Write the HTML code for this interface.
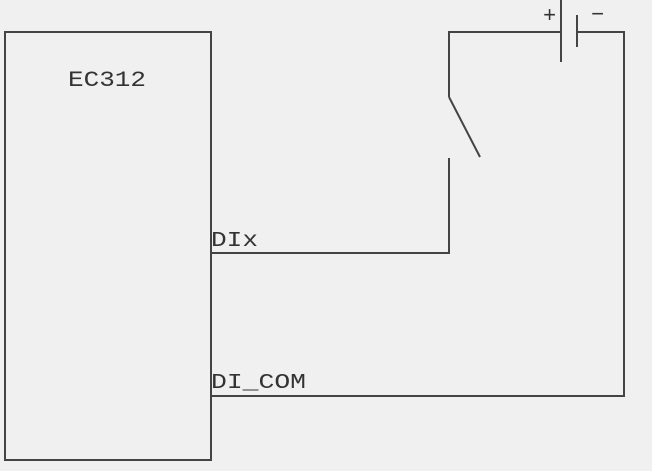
<!DOCTYPE html>
<html><head><style>body{margin:0;background:#f0f0f0}svg{display:block}</style></head><body>
<svg width="652" height="471" xmlns="http://www.w3.org/2000/svg">
<rect width="652" height="471" fill="#f0f0f0"/>
<g stroke="#444" stroke-width="2" fill="none">
<rect x="5" y="32" width="206" height="428"/>
<polyline points="211,253 449,253 449,158"/>
<polyline points="449,97 449,32 561,32"/>
<line x1="449" y1="97" x2="480" y2="157"/>
<line x1="561" y1="0" x2="561" y2="62"/>
<line x1="577" y1="15" x2="577" y2="47"/>
<polyline points="577,32 624,32 624,396 211,396"/>
</g>
<g font-family="Liberation Mono, monospace" fill="#333">
<text x="68" y="86" font-size="22" textLength="78" lengthAdjust="spacingAndGlyphs">EC312</text>
<text x="211" y="246" font-size="21" textLength="47" lengthAdjust="spacingAndGlyphs">DIx</text>
<text x="211" y="388" font-size="21" textLength="95" lengthAdjust="spacingAndGlyphs">DI_COM</text>
<text x="543" y="22" font-size="22">+</text>
<text x="591" y="21" font-size="22">−</text>
</g>
</svg>
</body></html>
